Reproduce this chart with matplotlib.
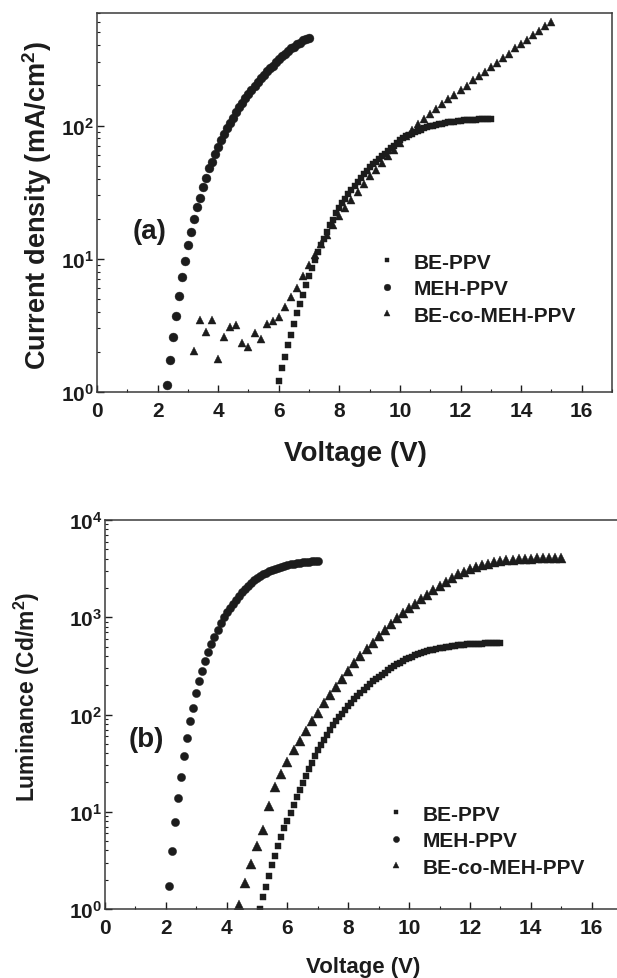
import numpy as np
import matplotlib
matplotlib.use("Agg")
import matplotlib.pyplot as plt
from matplotlib.ticker import MultipleLocator, LogLocator, FuncFormatter, NullFormatter

plt.rcParams['font.family'] = ['Liberation Sans', 'DejaVu Sans']
plt.rcParams['font.weight'] = 'bold'
plt.rcParams['mathtext.fontset'] = 'custom'
plt.rcParams['mathtext.rm'] = 'Liberation Sans:bold'
plt.rcParams['mathtext.bf'] = 'Liberation Sans:bold'
plt.rcParams['mathtext.it'] = 'Liberation Sans:bold'

# ---------------- data ----------------
series_names = ['BE-PPV', 'MEH-PPV', 'BE-co-MEH-PPV']
series_markers = ['s', 'o', '^']

# (a) current density, values given as log10(J / mA cm^-2)
v_a_meh = [2.3, 2.4, 2.5, 2.6, 2.7, 2.8, 2.9, 3.0, 3.1, 3.2, 3.3, 3.4, 3.5, 3.6, 3.7, 3.8, 3.9,
           4.0, 4.1, 4.2, 4.3, 4.4, 4.5, 4.6, 4.7, 4.8, 4.9, 5.0, 5.1, 5.2, 5.3, 5.4, 5.5, 5.6,
           5.7, 5.8, 5.9, 6.0, 6.1, 6.2, 6.3, 6.4, 6.5, 6.6, 6.7, 6.8, 6.9, 7.0]
logj_a_meh = [0.05, 0.24, 0.41, 0.57, 0.72, 0.86, 0.98, 1.10, 1.20, 1.30, 1.39, 1.46, 1.54, 1.61,
              1.68, 1.73, 1.79, 1.84, 1.89, 1.94, 1.98, 2.02, 2.06, 2.10, 2.14, 2.17, 2.21, 2.24,
              2.27, 2.30, 2.33, 2.36, 2.38, 2.41, 2.43, 2.45, 2.48, 2.50, 2.52, 2.54, 2.56, 2.58,
              2.59, 2.61, 2.62, 2.64, 2.65, 2.66]

v_a_be = [6.0, 6.1, 6.2, 6.3, 6.4, 6.5, 6.6, 6.7, 6.8, 6.9,
          7.0, 7.1, 7.2, 7.3, 7.4, 7.5, 7.6, 7.7, 7.8, 7.9,
          8.0, 8.1, 8.2, 8.3, 8.4, 8.5, 8.6, 8.7, 8.8, 8.9,
          9.0, 9.1, 9.2, 9.3, 9.4, 9.5, 9.6, 9.7, 9.8, 9.9,
          10.0, 10.1, 10.2, 10.3, 10.4, 10.5, 10.6, 10.7, 10.8, 10.9,
          11.0, 11.1, 11.2, 11.3, 11.4, 11.5, 11.6, 11.7, 11.8, 11.9,
          12.0, 12.1, 12.2, 12.3, 12.4, 12.5, 12.6, 12.7, 12.8, 12.9, 13.0]
logj_a_be = [0.08, 0.18, 0.26, 0.35, 0.43, 0.51, 0.59, 0.66, 0.73, 0.80,
             0.87, 0.93, 0.99, 1.05, 1.10, 1.15, 1.20, 1.25, 1.29, 1.34,
             1.38, 1.42, 1.45, 1.49, 1.52, 1.55, 1.58, 1.61, 1.64, 1.66,
             1.69, 1.71, 1.73, 1.75, 1.77, 1.79, 1.81, 1.83, 1.85, 1.87,
             1.89, 1.905, 1.92, 1.93, 1.94, 1.95, 1.96, 1.97, 1.98, 1.99,
             1.995, 2.00, 2.005, 2.01, 2.015, 2.02, 2.025, 2.03, 2.03, 2.035,
             2.035, 2.04, 2.04, 2.045, 2.045, 2.045, 2.05, 2.05, 2.05, 2.05, 2.05]

v_a_co = [3.2, 3.4, 3.6, 3.8, 4.0, 4.2, 4.4, 4.6, 4.8, 5.0,
          5.2, 5.4, 5.6, 5.8, 6.0, 6.2, 6.4, 6.6, 6.8, 7.0,
          7.2, 7.4, 7.6, 7.8, 8.0, 8.2, 8.4, 8.6, 8.8, 9.0,
          9.2, 9.4, 9.6, 9.8, 10.0, 10.2, 10.4, 10.6, 10.8, 11.0,
          11.2, 11.4, 11.6, 11.8, 12.0, 12.2, 12.4, 12.6, 12.8, 13.0,
          13.2, 13.4, 13.6, 13.8, 14.0, 14.2, 14.4, 14.6, 14.8, 15.0]
logj_a_co = [0.31, 0.54, 0.45, 0.54, 0.25, 0.41, 0.49, 0.50, 0.37, 0.34,
             0.44, 0.40, 0.51, 0.53, 0.56, 0.64, 0.71, 0.78, 0.87, 0.95,
             1.03, 1.11, 1.18, 1.25, 1.32, 1.38, 1.44, 1.50, 1.56, 1.62,
             1.67, 1.72, 1.77, 1.82, 1.87, 1.92, 1.97, 2.01, 2.05, 2.09,
             2.125, 2.16, 2.20, 2.23, 2.27, 2.30, 2.34, 2.37, 2.40, 2.44,
             2.47, 2.51, 2.54, 2.58, 2.61, 2.64, 2.68, 2.71, 2.75, 2.78]

# (b) luminance, values given as log10(L / cd m^-2)
v_b_meh = [2.1, 2.2, 2.3, 2.4, 2.5, 2.6, 2.7, 2.8, 2.9, 3.0, 3.1, 3.2, 3.3, 3.4, 3.5, 3.6, 3.7,
           3.8, 3.9, 4.0, 4.1, 4.2, 4.3, 4.4, 4.5, 4.6, 4.7, 4.8, 4.9, 5.0, 5.1, 5.2, 5.3, 5.4,
           5.5, 5.6, 5.7, 5.8, 5.9, 6.0, 6.1, 6.2, 6.3, 6.4, 6.5, 6.6, 6.7, 6.8, 6.9, 7.0]
logl_b_meh = [0.24, 0.60, 0.89, 1.14, 1.36, 1.57, 1.76, 1.93, 2.07, 2.22, 2.34, 2.45, 2.55, 2.64,
              2.72, 2.80, 2.87, 2.94, 3.00, 3.05, 3.10, 3.14, 3.18, 3.22, 3.26, 3.29, 3.32, 3.35,
              3.38, 3.40, 3.42, 3.44, 3.46, 3.475, 3.49, 3.50, 3.51, 3.52, 3.53, 3.54, 3.545,
              3.55, 3.555, 3.56, 3.565, 3.57, 3.57, 3.575, 3.575, 3.58]

v_b_be = [5.1, 5.2, 5.3, 5.4, 5.5, 5.6, 5.7, 5.8, 5.9,
          6.0, 6.1, 6.2, 6.3, 6.4, 6.5, 6.6, 6.7, 6.8, 6.9,
          7.0, 7.1, 7.2, 7.3, 7.4, 7.5, 7.6, 7.7, 7.8, 7.9,
          8.0, 8.1, 8.2, 8.3, 8.4, 8.5, 8.6, 8.7, 8.8, 8.9,
          9.0, 9.1, 9.2, 9.3, 9.4, 9.5, 9.6, 9.7, 9.8, 9.9,
          10.0, 10.1, 10.2, 10.3, 10.4, 10.5, 10.6, 10.7, 10.8, 10.9,
          11.0, 11.1, 11.2, 11.3, 11.4, 11.5, 11.6, 11.7, 11.8, 11.9,
          12.0, 12.1, 12.2, 12.3, 12.4, 12.5, 12.6, 12.7, 12.8, 12.9, 13.0]
logl_b_be = [0.0, 0.12, 0.23, 0.34, 0.45, 0.55, 0.65, 0.74, 0.83,
             0.91, 0.99, 1.07, 1.15, 1.22, 1.30, 1.37, 1.44, 1.50, 1.57,
             1.63, 1.69, 1.74, 1.79, 1.84, 1.89, 1.93, 1.97, 2.01, 2.05,
             2.09, 2.12, 2.16, 2.19, 2.22, 2.25, 2.28, 2.31, 2.34, 2.36,
             2.39, 2.41, 2.43, 2.46, 2.48, 2.50, 2.52, 2.53, 2.55, 2.57,
             2.58, 2.595, 2.61, 2.62, 2.63, 2.64, 2.65, 2.66, 2.665, 2.67,
             2.68, 2.685, 2.69, 2.695, 2.70, 2.705, 2.71, 2.713, 2.716, 2.72,
             2.722, 2.725, 2.727, 2.729, 2.73, 2.731, 2.732, 2.733, 2.734, 2.735, 2.735]

v_b_co = [4.4, 4.6, 4.8, 5.0, 5.2, 5.4, 5.6, 5.8, 6.0, 6.2,
          6.4, 6.6, 6.8, 7.0, 7.2, 7.4, 7.6, 7.8, 8.0, 8.2,
          8.4, 8.6, 8.8, 9.0, 9.2, 9.4, 9.6, 9.8, 10.0, 10.2,
          10.4, 10.6, 10.8, 11.0, 11.2, 11.4, 11.6, 11.8, 12.0, 12.2,
          12.4, 12.6, 12.8, 13.0, 13.2, 13.4, 13.6, 13.8, 14.0, 14.2,
          14.4, 14.6, 14.8, 15.0]
logl_b_co = [0.04, 0.27, 0.46, 0.65, 0.815, 1.06, 1.25, 1.385, 1.51, 1.63,
             1.73, 1.83, 1.935, 2.02, 2.12, 2.20, 2.28, 2.36, 2.45, 2.53,
             2.60, 2.67, 2.74, 2.81, 2.87, 2.93, 2.99, 3.04, 3.09, 3.14,
             3.19, 3.23, 3.28, 3.32, 3.36, 3.40, 3.44, 3.47, 3.50, 3.52,
             3.54, 3.55, 3.565, 3.575, 3.585, 3.59, 3.595, 3.60, 3.60, 3.605,
             3.605, 3.61, 3.61, 3.61]

x_ticks = [0, 2, 4, 6, 8, 10, 12, 14, 16]

# ---------------- figure ----------------
W, H = 617, 979
fig = plt.figure(figsize=(W / 100, H / 100), dpi=100)
ink = '#1c1c1c'


def px_axes(l, r, t, b):
    return fig.add_axes([l / W, 1 - b / H, (r - l) / W, (b - t) / H])


ax1 = px_axes(97, 612, 14, 393)
ax2 = px_axes(105, 622, 521, 910)

panel_a = [(v_a_be, logj_a_be, 4.8), (v_a_meh, logj_a_meh, 6.4), (v_a_co, logj_a_co, 6.3)]
panel_b = [(v_b_be, logl_b_be, 4.8), (v_b_meh, logl_b_meh, 5.9), (v_b_co, logl_b_co, 6.5)]


def dec_fmt(y, pos):
    return r'$\mathbf{10^{%d}}$' % int(round(np.log10(y)))


for ax, panel, ylim, ylabel, ylsize, lblx, xl_pos, yl_pos, leg_anchor, tag, tag_pos in [
    (ax1, panel_a, (1, 700), r'Current density (mA/cm$^{\mathbf{2}}$)', 19.5,
     20, (0.501, -0.161), (-0.117, 0.493), (0.543, 0.3676), '(a)', (1.75, 10 ** 1.21)),
    (ax2, panel_b, (1, 1e4), r'Luminance (Cd/m$^{\mathbf{2}}$)', 16.5,
     16, (0.499, -0.149), (-0.151, 0.548), (0.543, 0.2683), '(b)', (1.35, 10 ** 1.75)),
]:
    handles = []
    for (vx, ly, ms), name, mk in zip(panel, series_names, series_markers):
        h, = ax.plot(vx, 10 ** np.array(ly), ls='none', marker=mk, ms=ms,
                     color=ink, mec=ink, mew=0.3, label=name)
        handles.append(h)
    ax.set_yscale('log')
    ax.set_xlim(0, 17)
    ax.set_ylim(*ylim)
    ax.xaxis.set_major_locator(MultipleLocator(2))
    ax.xaxis.set_minor_locator(MultipleLocator(1))
    ax.yaxis.set_major_locator(LogLocator(base=10, numticks=10))
    ax.yaxis.set_minor_locator(LogLocator(base=10, subs=np.arange(2, 10), numticks=20))
    ax.yaxis.set_major_formatter(FuncFormatter(dec_fmt))
    ax.yaxis.set_minor_formatter(NullFormatter())
    ax.set_xticks(x_ticks)
    ax.set_xticklabels([str(t) for t in x_ticks])
    ax.tick_params(axis='both', which='major', direction='in', length=5, width=1.0,
                   labelsize=15, colors=ink)
    ax.tick_params(axis='both', which='minor', direction='in', length=2.5, width=0.8, colors=ink)
    ax.tick_params(axis='x', pad=6.5)
    ax.tick_params(axis='y', pad=2)
    for s in ax.spines.values():
        s.set_color('#3a3a3a')
        s.set_linewidth(1.1)

    ax.set_xlabel('Voltage (V)', fontsize=lblx, fontweight='bold', color=ink)
    ax.xaxis.label.set_va('center')
    ax.xaxis.set_label_coords(*xl_pos)
    ax.set_ylabel(ylabel, fontsize=ylsize, fontweight='bold', color=ink)
    ax.yaxis.label.set_va('center')
    ax.yaxis.set_label_coords(*yl_pos)

    ax.text(tag_pos[0], tag_pos[1], tag, fontsize=20, fontweight='bold', color=ink,
            ha='center', va='center')

    ax.legend(handles=handles, loc='upper left', bbox_to_anchor=leg_anchor, frameon=False,
              numpoints=1, markerscale=0.75, handlelength=1.0, handletextpad=0.78,
              labelspacing=0.36, borderpad=0, borderaxespad=0, labelcolor=ink,
              prop={'weight': 'bold', 'size': 15})

fig.savefig('out.png', dpi=100)
